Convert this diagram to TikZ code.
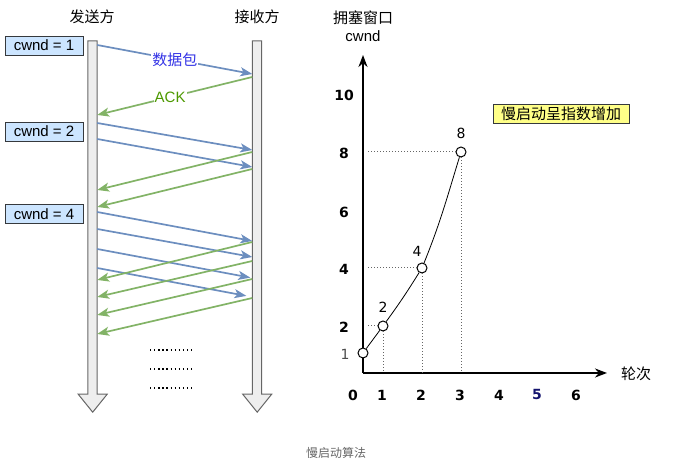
\documentclass[tikz,border=0pt]{standalone}
\usepackage{fontspec}
\setmainfont{Liberation Sans}
\newfontfamily\cjk{Noto Sans CJK SC}
\newfontfamily\verd{DejaVu Sans}
\usetikzlibrary{arrows.meta,calc}
\definecolor{DataBlue}{RGB}{108,142,191}
\definecolor{AckGreen}{RGB}{130,179,102}
\definecolor{DataText}{RGB}{51,51,230}
\definecolor{AckText}{RGB}{77,153,0}
\definecolor{BarFill}{RGB}{238,238,238}
\definecolor{BarLine}{RGB}{102,102,102}
\definecolor{CwndFill}{RGB}{204,229,255}
\definecolor{NoteFill}{RGB}{255,255,136}
\definecolor{BoxLine}{RGB}{54,57,61}
\definecolor{FiveBlue}{RGB}{20,20,110}

\begin{document}
\begin{tikzpicture}[
    x=1pt, y=1pt,
    font=\fontsize{15}{18}\selectfont,
    lifeline/.style={
        rectangle,
        inner sep=0pt,
        minimum width=9pt,
        minimum height=353pt
    },
    bar/.style={
        draw=BarLine,
        fill=BarFill,
        line width=1pt
    },
    cwnd/.style={
        rectangle,
        draw=BoxLine,
        fill=CwndFill,
        line width=0.8pt,
        inner sep=0pt,
        minimum width=78pt,
        minimum height=19pt
    },
    note/.style={
        rectangle,
        draw=BoxLine,
        fill=NoteFill,
        line width=0.8pt,
        inner sep=0pt,
        minimum width=136pt,
        minimum height=19pt,
        font=\cjk\fontsize{15}{18}\selectfont
    },
    data/.style={
        draw=DataBlue,
        line width=1.7pt,
        -{Stealth[length=12pt,width=9pt,inset=3pt]}
    },
    ack/.style={
        draw=AckGreen,
        line width=1.7pt,
        -{Stealth[length=12pt,width=9pt,inset=3pt]}
    },
    msglabel/.style={
        fill=white,
        inner sep=1pt
    },
    axis/.style={
        line width=2pt,
        -{Stealth[length=12pt,width=9pt]}
    },
    tick/.style={
        font=\verd\bfseries\fontsize{14}{16}\selectfont
    },
    ptlabel/.style={
        font=\verd\fontsize{14}{16}\selectfont
    },
    pnt/.style={
        circle,
        draw,
        fill=white,
        line width=1pt,
        inner sep=0pt,
        minimum size=10pt
    },
    guide/.style={
        draw=black!60,
        line width=1pt,
        dotted
    }
]
\useasboundingbox (0,0) rectangle (683,462);

% sender / receiver
\node (sndname) at (92,445) {\cjk 发送方};
\node (rcvname) at (257,445) {\cjk 接收方};
\node[lifeline] (snd) at (92.5,244.5) {};
\node[lifeline] (rcv) at (257,244.5) {};

\foreach \l in {snd,rcv}
    \draw[bar] (\l.north west) -- (\l.north east) -- (\l.south east)
        -- ++(10,0) -- ++(-14.5,-18) -- ++(-14.5,18)
        -- (\l.south west) -- cycle;

\node[cwnd] (cwnd1) at (44,416.5) {cwnd = 1};
\node[cwnd] (cwnd2) at (44,330.5) {cwnd = 2};
\node[cwnd] (cwnd4) at (44,248) {cwnd = 4};

\draw[data] (snd.east |- 0,417) -- (rcv.west |- 0,388)
    node[msglabel, pos=0.5, text=DataText] (datalabel) {\cjk 数据包};
\draw[ack] (rcv.west |- 0,385) -- (snd.east |- 0,347)
    node[msglabel, pos=0.53, text=AckText] (acklabel) {ACK};

\foreach \a/\b/\s in {339/312/0, 323/295/0, 250/221/0, 233/205/0, 213/184/2, 194/165/6}
    \draw[data, shorten >=\s pt] (snd.east |- 0,\a) -- (rcv.west |- 0,\b);

\foreach \a/\b in {310/272, 293/255, 220/182, 201/165, 183/147, 164/128}
    \draw[ack] (rcv.west |- 0,\a) -- (snd.east |- 0,\b);

\foreach \y in {112,93,74}
    \draw[line width=1.3pt, dash pattern=on 1.3pt off 2.8pt] (150,\y) -- (192,\y);

% cwnd chart
\coordinate (o) at (363,89);
\coordinate (ytip) at (363,407);
\coordinate (xtip) at (607,89);
\draw[axis] (o) -- (ytip);
\draw[axis] (o) -- (xtip);

\node (ytitle) at (363,444) {\cjk 拥塞窗口};
\node (yunit) at (363,426) {cwnd};
\node (xtitle) at (636,88) {\cjk 轮次};

\foreach \v/\y in {10/367, 8/309, 6/250, 4/193, 2/135}
    \node[tick] (y\v) at (344,\y) {\v};
\foreach \v/\x in {0/353, 1/382, 2/421, 3/460, 4/499, 6/576}
    \node[tick] (x\v) at (\x,67) {\v};
\node[tick, text=FiveBlue] (x5) at (537,67) {5};

\node[pnt] (c1) at (363,109) {};
\node[pnt] (c2) at (383,136) {};
\node[pnt] (c4) at (422,194) {};
\node[pnt] (c8) at (461,310) {};

\foreach \p in {c2,c4,c8} {
    \draw[guide] ($(o |- \p)+(5,0)$) -- (\p);
    \draw[guide] (\p) -- (\p |- o);
}

\draw[line width=0.8pt] (c1) -- (c2) to[out=54,in=238] (c4) to[out=68,in=253] (c8);

\node[ptlabel, text=black!70] (l1) at (345,108) {1};
\node[ptlabel] (l2) at (383,155) {2};
\node[ptlabel] (l4) at (417,211) {4};
\node[ptlabel] (l8) at (461,329) {8};

\node[note] (slowstart) at (561,348.5) {慢启动呈指数增加};

\node[font=\cjk\fontsize{12}{14}\selectfont, text=black!60] (caption) at (336,9) {慢启动算法};

\end{tikzpicture}
\end{document}
